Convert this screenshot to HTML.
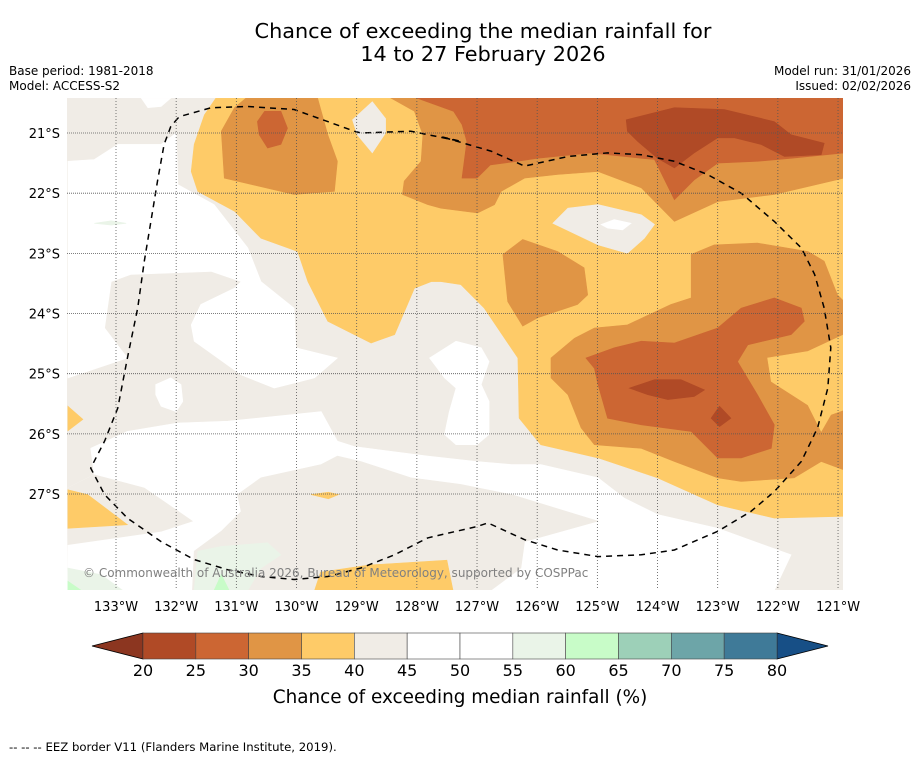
<!DOCTYPE html>
<html><head><meta charset="utf-8">
<style>
html,body{margin:0;padding:0;background:#fff;}
body{width:919px;height:758px;overflow:hidden;font-family:"Liberation Sans","DejaVu Sans",sans-serif;}
svg text{font-family:"DejaVu Sans","Liberation Sans",sans-serif;}
</style></head>
<body>
<svg id="chart" width="919" height="758" viewBox="0 0 919 758" xmlns="http://www.w3.org/2000/svg">
  <text x="483" y="38" font-size="20.8" text-anchor="middle" fill="#000">Chance of exceeding the median rainfall for</text>
  <text x="483" y="61" font-size="20.8" text-anchor="middle" fill="#000">14 to 27 February 2026</text>
  <text x="9" y="75" font-size="12" fill="#000">Base period: 1981-2018</text>
  <text x="9" y="90" font-size="12" fill="#000">Model: ACCESS-S2</text>
  <text x="911" y="75" font-size="12" text-anchor="end" fill="#000">Model run: 31/01/2026</text>
  <text x="911" y="90" font-size="12" text-anchor="end" fill="#000">Issued: 02/02/2026</text>
  <defs><clipPath id="mapclip"><rect x="67" y="98" width="776" height="492"/></clipPath></defs>
  <g id="map" clip-path="url(#mapclip)"></g>
  <g id="grid"></g>
  <g id="axes"></g>
  <g id="cbar"></g>
  <text x="460" y="703" font-size="18.4" text-anchor="middle" fill="#000">Chance of exceeding median rainfall (%)</text>
  <text x="9" y="751" font-size="11.7" fill="#000">--  --  -- EEZ border V11 (Flanders Marine Institute, 2019).</text>
</svg>
<script>
// ---- data (lon, lat in degrees) ----
const lonTicks = [-133,-132,-131,-130,-129,-128,-127,-126,-125,-124,-123,-122,-121];
const latTicks = [-21,-22,-23,-24,-25,-26,-27];
const cbarLevels = [20,25,30,35,40,45,50,55,60,65,70,75,80];
const cbarColors = ["#b04a26","#cc6633","#e09545","#fecb68","#f0ece6","#ffffff","#ffffff","#eaf4e8","#c8fcc8","#9dd0b8","#6da5a8","#3f7a98"];
const cbarUnder = "#8c3620";
const cbarOver = "#174f86";

const beigeBase = [[-133.81,-20.42],[-120.92,-20.42],[-120.92,-28.6],[-133.81,-28.6]];
const whiteLeft = [[-133.8,-21.47],[-133.36,-21.44],[-132.97,-21.19],[-132.25,-21.19],[-132.0,-21.0],[-131.97,-21.86],[-131.37,-22.19],[-130.81,-22.91],[-130.59,-23.47],[-130.04,-23.91],[-130.01,-24.57],[-129.32,-24.74],[-129.7,-25.07],[-130.37,-25.24],[-130.92,-25.02],[-131.31,-24.74],[-131.7,-24.46],[-131.75,-24.19],[-131.59,-23.85],[-131.03,-23.58],[-130.92,-23.47],[-131.42,-23.3],[-132.75,-23.35],[-133.08,-23.47],[-133.19,-24.24],[-132.81,-24.74],[-133.8,-25.07]];
const whiteSmall = [[-132.34,-25.18],[-132.09,-25.07],[-131.92,-25.18],[-131.89,-25.46],[-132.0,-25.63],[-132.25,-25.54],[-132.34,-25.35]];
const whiteMid = [[-127.79,-24.74],[-127.35,-24.46],[-126.93,-24.57],[-126.8,-24.8],[-126.93,-25.18],[-126.8,-25.46],[-126.8,-26.01],[-127.0,-26.18],[-127.35,-26.18],[-127.54,-26.01],[-127.46,-25.63],[-127.35,-25.24],[-127.54,-25.07]];
const whiteSouth = [[-133.42,-26.24],[-132.81,-25.96],[-131.98,-25.82],[-131.14,-25.79],[-129.59,-25.63],[-129.32,-26.12],[-129.04,-26.21],[-127.82,-26.37],[-127.0,-26.46],[-126.43,-26.51],[-125.94,-26.51],[-124.99,-26.73],[-124.55,-27.07],[-124.0,-27.34],[-123.0,-27.57],[-121.78,-28.01],[-122.06,-28.6],[-133.81,-28.6],[-133.8,-26.9],[-133.36,-26.68]];
const whiteTopSliver = [[-132.58,-20.42],[-132.09,-20.42],[-132.25,-20.56],[-132.47,-20.58]];
const beigeSouth = [[-130.98,-27.01],[-130.59,-26.73],[-129.59,-26.51],[-129.32,-26.37],[-128.93,-26.46],[-128.1,-26.73],[-127.27,-26.84],[-126.43,-27.01],[-124.99,-27.45],[-126.21,-27.79],[-126.27,-28.23],[-126.77,-28.6],[-131.73,-28.6],[-131.7,-27.95],[-131.25,-27.62],[-130.92,-27.29]];
const beigeSW = [[-133.36,-26.68],[-132.53,-26.9],[-131.73,-27.45],[-132.25,-27.62],[-133.8,-27.84],[-133.8,-26.9]];
const greenLightBlob = [[-131.7,-28.6],[-131.64,-27.95],[-131.25,-27.87],[-130.48,-27.81],[-130.26,-28.01],[-130.59,-28.23],[-130.81,-28.6]];
const greenLightCorner = [[-133.8,-28.23],[-133.25,-28.34],[-132.89,-28.6],[-133.8,-28.6]];
const greenLightSpeck = [[-133.36,-22.5],[-133.08,-22.46],[-132.83,-22.5],[-133.08,-22.53]];
const greenBlob = [[-131.37,-28.6],[-131.25,-28.34],[-131.12,-28.6]];
const greenCorner = [[-133.8,-28.45],[-133.58,-28.6],[-133.8,-28.6]];

const yellowMain = [[-131.34,-20.42],[-120.92,-20.42],[-120.9,-27.37],[-122.06,-27.4],[-123.0,-27.18],[-124.0,-26.73],[-124.99,-26.4],[-125.94,-26.18],[-126.3,-25.74],[-126.32,-24.74],[-126.88,-23.91],[-127.27,-23.52],[-127.6,-23.47],[-127.76,-23.47],[-128.04,-23.58],[-128.37,-24.35],[-128.76,-24.49],[-129.48,-24.13],[-129.81,-23.47],[-129.98,-22.97],[-130.59,-22.75],[-131.03,-22.3],[-131.64,-21.97],[-131.75,-21.64],[-131.7,-21.19],[-131.53,-20.7]];
const yellowEdgeW = [[-133.8,-25.54],[-133.55,-25.76],[-133.8,-25.95]];
const yellowSW = [[-133.8,-26.93],[-133.47,-27.01],[-132.81,-27.51],[-133.8,-27.57]];
const yellowSpeck = [[-129.76,-27.01],[-129.47,-26.97],[-129.3,-27.01],[-129.47,-27.08]];
const yellowSouth = [[-129.7,-28.6],[-129.6,-28.3],[-128.8,-28.18],[-127.5,-28.1],[-127.4,-28.6]];
const yellowEast = [[-120.9,-24.35],[-121.5,-24.63],[-122.17,-24.74],[-122.11,-25.13],[-121.5,-25.52],[-121.28,-25.96],[-121.12,-25.68],[-120.9,-25.6]];
const beigeHoleN = [[-129.07,-20.78],[-128.74,-20.48],[-128.52,-20.76],[-128.52,-21.0],[-128.74,-21.33],[-128.99,-21.03]];
const beigeHoleC = [[-125.74,-22.5],[-125.49,-22.25],[-124.99,-22.19],[-124.27,-22.36],[-124.05,-22.52],[-124.22,-22.75],[-124.5,-23.0],[-124.99,-22.86]];
const whiteHoleC = [[-124.94,-22.52],[-124.72,-22.44],[-124.44,-22.5],[-124.58,-22.61],[-124.83,-22.58]];

const orangeNW = [[-131.2,-21.75],[-131.25,-20.97],[-131.03,-20.58],[-130.84,-20.42],[-129.65,-20.42],[-129.48,-21.03],[-129.32,-21.47],[-129.37,-21.97],[-130.04,-22.02]];
const orangeN = [[-128.43,-20.42],[-120.92,-20.42],[-120.9,-21.75],[-122.06,-22.02],[-123.0,-22.14],[-123.72,-22.47],[-124.27,-21.91],[-124.99,-21.64],[-125.66,-21.69],[-126.21,-21.75],[-126.6,-21.97],[-126.71,-22.19],[-126.99,-22.33],[-127.6,-22.25],[-127.82,-22.19],[-128.24,-22.02],[-128.21,-21.8],[-127.93,-21.47],[-127.9,-21.03],[-128.04,-20.64]];
const orangeC = [[-126.57,-23.02],[-126.24,-22.77],[-125.66,-22.97],[-125.22,-23.24],[-125.16,-23.69],[-125.33,-23.85],[-125.99,-24.07],[-126.24,-24.21],[-126.49,-23.8]];
const orangeSE = [[-125.77,-24.74],[-125.38,-24.41],[-125.05,-24.24],[-124.5,-24.19],[-123.78,-23.85],[-123.44,-23.74],[-123.44,-23.02],[-123.06,-22.86],[-122.34,-22.83],[-121.5,-22.97],[-121.23,-23.13],[-121.01,-23.69],[-120.9,-23.8],[-120.9,-26.6],[-121.28,-26.46],[-121.73,-26.73],[-122.61,-26.79],[-123.0,-26.73],[-123.72,-26.46],[-124.27,-26.24],[-125.05,-26.18],[-125.27,-25.9],[-125.49,-25.35],[-125.77,-25.07]];
const darkNW = [[-130.65,-20.81],[-130.53,-20.64],[-130.26,-20.64],[-130.15,-20.92],[-130.26,-21.19],[-130.48,-21.25],[-130.62,-21.03]];
const darkN = [[-128.0,-20.42],[-120.92,-20.42],[-120.9,-21.33],[-121.78,-21.42],[-122.34,-21.47],[-123.0,-21.5],[-123.39,-21.78],[-123.72,-22.11],[-124.05,-21.44],[-124.27,-21.42],[-125.11,-21.33],[-126.0,-21.42],[-126.33,-21.47],[-126.78,-21.53],[-127.0,-21.75],[-127.25,-21.75],[-127.17,-21.14],[-127.25,-20.86],[-127.39,-20.64]];
const darkSE = [[-125.19,-24.74],[-124.72,-24.57],[-124.27,-24.46],[-123.72,-24.49],[-123.0,-24.24],[-122.61,-23.91],[-122.06,-23.74],[-121.61,-23.91],[-121.56,-24.13],[-121.78,-24.35],[-122.5,-24.52],[-122.67,-24.8],[-122.34,-25.35],[-122.06,-25.85],[-122.11,-26.24],[-122.61,-26.4],[-123.0,-26.4],[-123.44,-25.96],[-124.27,-25.85],[-124.83,-25.74],[-124.99,-25.18],[-125.05,-24.91]];
const brownN = [[-124.52,-20.78],[-123.72,-20.58],[-122.89,-20.61],[-122.06,-20.81],[-121.78,-21.03],[-121.23,-21.17],[-121.28,-21.36],[-121.89,-21.39],[-122.28,-21.19],[-122.72,-21.08],[-123.0,-21.08],[-123.39,-21.33],[-123.72,-21.58],[-124.0,-21.42],[-124.33,-21.14],[-124.5,-20.97]];
const brownSE = [[-124.47,-25.24],[-124.05,-25.1],[-123.61,-25.1],[-123.22,-25.27],[-123.39,-25.38],[-123.83,-25.43],[-124.16,-25.35]];
const brownSpeck = [[-123.11,-25.74],[-122.97,-25.54],[-122.78,-25.74],[-122.97,-25.88]];

const eezBorder = [[-131.97,-20.75],[-132.09,-20.89],[-132.2,-21.19],[-132.31,-21.8],[-132.42,-22.47],[-132.53,-23.13],[-132.64,-23.91],[-132.81,-24.74],[-132.97,-25.57],[-133.19,-26.12],[-133.42,-26.57],[-133.19,-27.01],[-132.81,-27.4],[-132.25,-27.79],[-131.7,-28.09],[-131.14,-28.26],[-130.59,-28.37],[-130.04,-28.42],[-129.48,-28.37],[-128.93,-28.23],[-128.37,-28.01],[-127.82,-27.73],[-127.0,-27.54],[-126.82,-27.48],[-126.21,-27.76],[-125.66,-27.93],[-124.99,-28.04],[-124.27,-28.01],[-123.72,-27.93],[-123.0,-27.62],[-122.45,-27.29],[-122.06,-26.96],[-121.61,-26.46],[-121.34,-25.9],[-121.17,-25.24],[-121.12,-24.57],[-121.23,-23.91],[-121.39,-23.35],[-121.61,-22.91],[-122.06,-22.47],[-122.61,-22.0],[-123.17,-21.69],[-123.72,-21.47],[-124.27,-21.36],[-124.83,-21.33],[-125.49,-21.39],[-126.21,-21.55],[-126.77,-21.3],[-127.6,-21.06],[-127.27,-21.14],[-128.1,-20.97],[-128.93,-21.0],[-129.04,-20.97],[-129.48,-20.81],[-130.04,-20.61],[-130.81,-20.56],[-131.42,-20.58],[-131.92,-20.72],[-131.97,-20.75]];

// ---- scales ----
const PX_PER_DEG = 60.17;
function xScale(lon){ return 116 + (lon + 133) * PX_PER_DEG; }
function yScale(lat){ return 133 + (-21 - lat) * PX_PER_DEG; }
const NS = "http://www.w3.org/2000/svg";
function pathD(poly, close){
  let d = poly.map((p,i)=>(i?"L":"M")+xScale(p[0]).toFixed(1)+","+yScale(p[1]).toFixed(1)).join("");
  return close ? d + "Z" : d;
}
const map = document.getElementById("map");
function fill(poly, color, name){
  const p = document.createElementNS(NS,"path");
  p.setAttribute("d", pathD(poly,true));
  p.setAttribute("fill", color);
  p.setAttribute("stroke", color);
  p.setAttribute("stroke-width", "0.6");
  
  
  map.appendChild(p);
}
const C = cbarColors;
fill(beigeBase, C[4], "region-40-45-base");
fill(whiteLeft, C[5], "region-45-55-west");
fill(whiteSmall, C[5], "region-45-55-small");
fill(whiteMid, C[5], "region-45-55-central");
fill(whiteSouth, C[5], "region-45-55-south");
fill(whiteTopSliver, C[5], "region-45-55-north-sliver");
fill(beigeSouth, C[4], "region-40-45-south");
fill(beigeSW, C[4], "region-40-45-southwest");
fill(greenLightBlob, C[7], "region-55-60-south");
fill(greenLightCorner, C[7], "region-55-60-corner");
fill(greenLightSpeck, C[7], "region-55-60-speck");
fill(greenBlob, C[8], "region-60-65-south");
fill(greenCorner, C[8], "region-60-65-corner");
fill(yellowMain, C[3], "region-35-40-main");
fill(yellowEdgeW, C[3], "region-35-40-west-edge");
fill(yellowSW, C[3], "region-35-40-southwest");
fill(yellowSpeck, C[3], "region-35-40-speck");
fill(yellowSouth, C[3], "region-35-40-south");
fill(beigeHoleN, C[4], "region-40-45-north-hole");
fill(beigeHoleC, C[4], "region-40-45-central-hole");
fill(whiteHoleC, C[5], "region-45-50-central-hole");
fill(orangeNW, C[2], "region-30-35-northwest");
fill(orangeN, C[2], "region-30-35-north");
fill(orangeC, C[2], "region-30-35-central");
fill(orangeSE, C[2], "region-30-35-southeast");
fill(yellowEast, C[3], "region-35-40-east");
fill(darkNW, C[1], "region-25-30-northwest");
fill(darkN, C[1], "region-25-30-north");
fill(darkSE, C[1], "region-25-30-southeast");
fill(brownN, C[0], "region-20-25-north");
fill(brownSE, C[0], "region-20-25-southeast");
fill(brownSpeck, C[0], "region-20-25-speck");

// EEZ border
const eez = document.createElementNS(NS,"path");
eez.setAttribute("d", pathD(eezBorder,false));
eez.setAttribute("fill","none");
eez.setAttribute("stroke","#000");
eez.setAttribute("stroke-width","1.5");
eez.setAttribute("stroke-dasharray","6,5");


map.appendChild(eez);

const copy = document.createElementNS(NS,"text");
copy.setAttribute("x","83"); copy.setAttribute("y","577");
copy.setAttribute("font-size","12"); copy.setAttribute("fill","#808080");
copy.textContent = "© Commonwealth of Australia 2026, Bureau of Meteorology, supported by COSPPac";


map.appendChild(copy);

// graticule + labels
const grid = document.getElementById("grid");
const axes = document.getElementById("axes");
lonTicks.forEach(lon=>{
  const l = document.createElementNS(NS,"line");
  const x = xScale(lon);
  l.setAttribute("x1",x); l.setAttribute("x2",x); l.setAttribute("y1",98); l.setAttribute("y2",590);
  l.setAttribute("stroke","#555"); l.setAttribute("stroke-width","0.8"); l.setAttribute("stroke-dasharray","1,2");
  
  
  grid.appendChild(l);
  const t = document.createElementNS(NS,"text");
  t.setAttribute("x",x); t.setAttribute("y",611); t.setAttribute("font-size","13"); t.setAttribute("text-anchor","middle");
  t.textContent = Math.abs(lon) + "°W";
  
  
  axes.appendChild(t);
});
latTicks.forEach(lat=>{
  const l = document.createElementNS(NS,"line");
  const y = yScale(lat);
  l.setAttribute("x1",67); l.setAttribute("x2",843); l.setAttribute("y1",y); l.setAttribute("y2",y);
  l.setAttribute("stroke","#555"); l.setAttribute("stroke-width","0.8"); l.setAttribute("stroke-dasharray","1,1");
  
  
  grid.appendChild(l);
  const t = document.createElementNS(NS,"text");
  t.setAttribute("x",60); t.setAttribute("y",y+5); t.setAttribute("font-size","13"); t.setAttribute("text-anchor","end");
  t.textContent = Math.abs(lat) + "°S";
  
  
  axes.appendChild(t);
});

// colorbar
const cbar = document.getElementById("cbar");
const cbX0 = 143, cbX1 = 777, cbY = 633, cbH = 26;
function cbScale(v){ return cbX0 + (v - cbarLevels[0]) / (cbarLevels[cbarLevels.length-1] - cbarLevels[0]) * (cbX1 - cbX0); }
const under = document.createElementNS(NS,"polygon");
under.setAttribute("points", `${cbX0},${cbY} ${92},${cbY+cbH/2} ${cbX0},${cbY+cbH}`);
under.setAttribute("fill", cbarUnder); under.setAttribute("stroke","#000"); under.setAttribute("stroke-width","0.8");


cbar.appendChild(under);
const over = document.createElementNS(NS,"polygon");
over.setAttribute("points", `${cbX1},${cbY} ${828},${cbY+cbH/2} ${cbX1},${cbY+cbH}`);
over.setAttribute("fill", cbarOver); over.setAttribute("stroke","#000"); over.setAttribute("stroke-width","0.8");


cbar.appendChild(over);
cbarColors.forEach((c,i)=>{
  const r = document.createElementNS(NS,"rect");
  const x0 = cbScale(cbarLevels[i]), x1 = cbScale(cbarLevels[i+1]);
  r.setAttribute("x",x0); r.setAttribute("y",cbY); r.setAttribute("width",x1-x0); r.setAttribute("height",cbH);
  r.setAttribute("fill",c); r.setAttribute("stroke","#444"); r.setAttribute("stroke-width","0.6");
  
  
  cbar.appendChild(r);
});
cbarLevels.forEach(v=>{
  const t = document.createElementNS(NS,"text");
  t.setAttribute("x",cbScale(v)); t.setAttribute("y",676); t.setAttribute("font-size","16"); t.setAttribute("text-anchor","middle");
  t.textContent = v;
  
  
  cbar.appendChild(t);
});
</script>
</body></html>
